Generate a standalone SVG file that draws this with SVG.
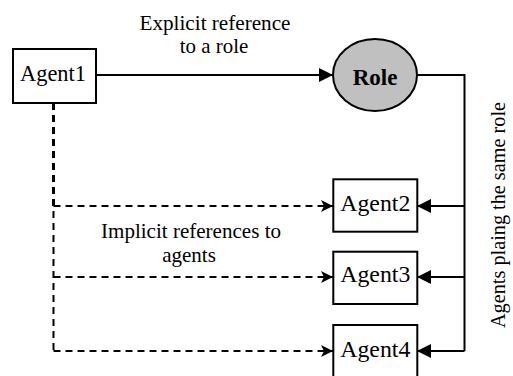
<svg xmlns="http://www.w3.org/2000/svg" width="513" height="376" viewBox="0 0 513 376">
<style>
.box{fill:#fff;stroke:#000;stroke-width:2}
text{font-family:'Liberation Serif','Times New Roman',Times,Tinos,'DejaVu Serif','Noto Serif',serif;fill:#000}
.solid{fill:none;stroke:#000;stroke-width:2}
.dash{fill:none;stroke:#000;stroke-width:2;stroke-dasharray:7 5}
</style>
<defs>
<marker id="tri" viewBox="0 0 14 14" refX="14" refY="7" markerWidth="14" markerHeight="14" markerUnits="userSpaceOnUse" orient="auto">
<path d="M0,0 L14,7 L0,14 z" fill="#000"/>
</marker>
<marker id="notch" viewBox="0 0 12 12" refX="12" refY="6" markerWidth="12" markerHeight="12" markerUnits="userSpaceOnUse" orient="auto">
<path d="M0,0 L12,6 L0,12 L3,6 z" fill="#000"/>
</marker>
</defs>
<g id="connectors">
<path class="solid" d="M96,75 H333" marker-end="url(#tri)"/>
<path class="solid" d="M417,75 H464.5 V351"/>
<path class="solid" d="M464.5,206 H417" marker-end="url(#tri)"/>
<path class="solid" d="M464.5,277 H417" marker-end="url(#tri)"/>
<path class="solid" d="M464.5,351 H417" marker-end="url(#tri)"/>
<path class="dash" d="M53.5,103 V351"/>
<path class="dash" style="stroke-width:3" d="M53.5,103 V206"/>
<path class="dash" d="M53.5,206 H333" marker-end="url(#notch)"/>
<path class="dash" d="M53.5,277 H333" marker-end="url(#notch)"/>
<path class="dash" d="M53.5,351 H333" marker-end="url(#notch)"/>
</g>
<g id="label-explicit">
<text font-size="21" text-anchor="middle" x="215" y="29.5" textLength="151" lengthAdjust="spacingAndGlyphs">Explicit reference</text>
<text font-size="21" text-anchor="middle" x="214" y="53" textLength="68.5" lengthAdjust="spacingAndGlyphs">to a role</text>
</g>
<g id="label-implicit">
<text font-size="21" text-anchor="middle" x="191" y="238" textLength="180" lengthAdjust="spacingAndGlyphs">Implicit references to</text>
<text font-size="21" text-anchor="middle" x="189" y="262" textLength="53.7" lengthAdjust="spacingAndGlyphs">agents</text>
</g>
<g id="label-same-role">
<text font-size="20.2" text-anchor="middle" transform="translate(505,215) rotate(-90)" textLength="226" lengthAdjust="spacingAndGlyphs">Agents plaing the same role</text>
</g>
<g id="agent1">
<rect class="box" x="13" y="49" width="83" height="54"/>
<text font-size="23" text-anchor="middle" x="53" y="81" textLength="66" lengthAdjust="spacingAndGlyphs">Agent1</text>
</g>
<g id="role">
<ellipse cx="375" cy="75" rx="42" ry="36" fill="#c0c0c0" stroke="#000" stroke-width="2"/>
<text font-size="23" font-weight="bold" text-anchor="middle" x="375" y="85" textLength="44.7" lengthAdjust="spacingAndGlyphs">Role</text>
</g>
<g id="agent2">
<rect class="box" x="333.3" y="179.3" width="84" height="52.4"/>
<text font-size="23.5" text-anchor="middle" x="375.3" y="211" textLength="70" lengthAdjust="spacingAndGlyphs">Agent2</text>
</g>
<g id="agent3">
<rect class="box" x="333.3" y="251.7" width="84" height="52.3"/>
<text font-size="23.5" text-anchor="middle" x="375.3" y="282" textLength="70" lengthAdjust="spacingAndGlyphs">Agent3</text>
</g>
<g id="agent4">
<rect class="box" x="333.3" y="325" width="84" height="60"/>
<text font-size="23.5" text-anchor="middle" x="375.3" y="356.5" textLength="70" lengthAdjust="spacingAndGlyphs">Agent4</text>
</g>
</svg>
